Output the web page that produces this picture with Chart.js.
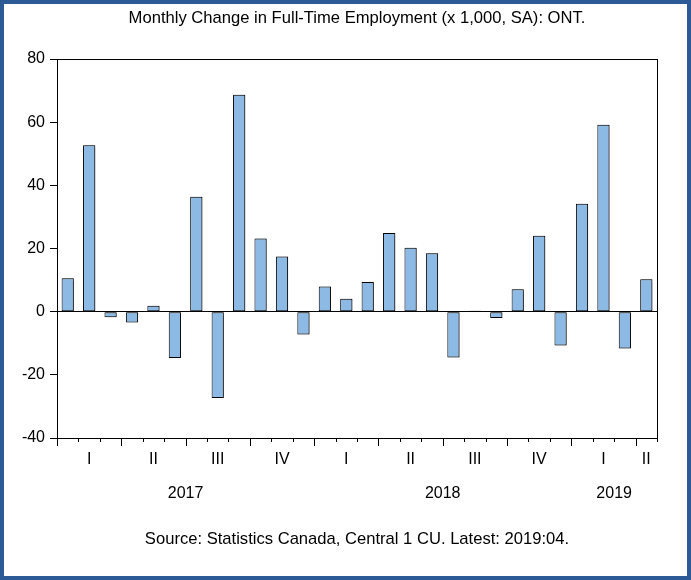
<!DOCTYPE html>
<html>
<head>
<meta charset="utf-8">
<script src="https://cdn.jsdelivr.net/npm/chart.js@4/dist/chart.umd.min.js"></script>
<style>
  html, body { margin: 0; padding: 0; background: #fff; }
  #wrap { width: 691px; height: 580px; }
</style>
</head>
<body>
<div id="wrap"><canvas id="chart" width="691" height="580"></canvas></div>
<script>
// data
const months = ['2017-01','2017-02','2017-03','2017-04','2017-05','2017-06','2017-07','2017-08','2017-09','2017-10','2017-11','2017-12',
                '2018-01','2018-02','2018-03','2018-04','2018-05','2018-06','2018-07','2018-08','2018-09','2018-10','2018-11','2018-12',
                '2019-01','2019-02','2019-03','2019-04'];
const change = [10.6, 52.7, -1.8, -3.4, 1.9, -14.7, 36.4, -27.3, 68.7, 23.2, 17.5, -7.2,
                8.0, 4.1, 9.4, 24.9, 20.2, 18.5, -14.5, 0.3, -2.0, 7.1, 24.0, -10.7,
                34.2, 59.2, -11.7, 10.3];
const quarterNames = ['I', 'II', 'III', 'IV'];
const yTicks = [-40, -20, 0, 20, 40, 60, 80];

const titleText = 'Monthly Change in Full-Time Employment (x 1,000, SA): ONT.';
const sourceText = 'Source: Statistics Canada, Central 1 CU. Latest: 2019:04.';
const FONT = '"Liberation Sans", Arial, sans-serif';

// frame, plot box, month ticks, quarter and year labels
const decor = {
  id: 'decor',
  beforeDraw(chart) {
    const c = chart.ctx;
    c.save();
    c.fillStyle = '#fff';
    c.fillRect(0, 0, chart.width, chart.height);
    c.strokeStyle = '#2c5a96';
    c.lineWidth = 4;
    c.strokeRect(2, 2, chart.width - 4, chart.height - 4);
    c.restore();
  },
  beforeDatasetsDraw(chart) {
    chart.ctx.save();
    chart.ctx.shadowColor = 'rgba(0,0,0,0.35)';
    chart.ctx.shadowOffsetX = 1.5;
    chart.ctx.shadowOffsetY = 0;
    chart.ctx.shadowBlur = 1;
  },
  afterDatasetsDraw(chart) {
    chart.ctx.restore();
  },
  afterDraw(chart) {
    const c = chart.ctx;
    const a = chart.chartArea;
    const xs = chart.scales.x;
    const n = months.length;
    const w = (xs.right - xs.left) / n;
    const mid = (a.left + a.right) / 2;
    c.save();
    c.strokeStyle = '#000';
    c.lineWidth = 1;
    c.strokeRect(Math.round(a.left) + 0.5, Math.round(a.top) + 0.5,
                 Math.round(a.right - a.left), Math.round(a.bottom - a.top));

    // month ticks, longer on quarter starts
    for (let i = 0; i <= n; i++) {
      const x = Math.round(xs.left + i * w) + 0.5;
      const len = (i % 3 === 0 && i < n) ? 8 : 4;
      c.beginPath();
      c.moveTo(x, a.bottom);
      c.lineTo(x, a.bottom + len);
      c.stroke();
    }

    c.fillStyle = '#000';
    c.textAlign = 'center';
    c.textBaseline = 'middle';
    c.font = '16px ' + FONT;

    // quarter labels, centered on the months present in each quarter
    const groups = {};
    const years = {};
    months.forEach((m, i) => {
      const yr = m.slice(0, 4);
      const q = Math.floor((parseInt(m.slice(5), 10) - 1) / 3);
      const key = yr + 'Q' + q;
      (groups[key] = groups[key] || { q: q, idx: [] }).idx.push(i);
      (years[yr] = years[yr] || []).push(i);
    });
    Object.values(groups).forEach(g => {
      const x = (xs.getPixelForValue(g.idx[0]) + xs.getPixelForValue(g.idx[g.idx.length - 1])) / 2;
      c.fillText(quarterNames[g.q], x, 460);
    });
    Object.keys(years).forEach(yr => {
      const idx = years[yr];
      const x = (xs.getPixelForValue(idx[0]) + xs.getPixelForValue(idx[idx.length - 1])) / 2;
      c.fillText(yr, x, 494);
    });

    c.font = '16.6px ' + FONT;
    c.fillText(titleText, mid, 18);
    c.fillText(sourceText, mid, 539);
    c.restore();
  }
};

new Chart(document.getElementById('chart'), {
  type: 'bar',
  data: {
    labels: months,
    datasets: [{
      data: change,
      backgroundColor: '#8cbae5',
      borderColor: '#000',
      borderWidth: 1,
      borderSkipped: false,
      categoryPercentage: 1,
      barPercentage: 0.57
    }]
  },
  options: {
    responsive: false,
    animation: false,
    devicePixelRatio: 1,
    layout: { padding: { left: 0, right: 34, top: 59, bottom: 142 } },
    plugins: { legend: { display: false }, tooltip: { enabled: false } },
    scales: {
      x: { display: false, offset: true },
      y: {
        min: -40,
        max: 80,
        afterFit(scale) { scale.width = 57; },
        afterBuildTicks(scale) { scale.ticks = yTicks.map(v => ({ value: v })); },
        border: { display: false },
        grid: {
          color: ctx => (ctx.tick && ctx.tick.value === 0) ? '#000' : 'rgba(0,0,0,0)',
          tickColor: '#000',
          tickLength: 7,
          lineWidth: 1
        },
        ticks: {
          color: '#000',
          padding: 5,
          font: { family: FONT, size: 16 }
        }
      }
    }
  },
  plugins: [decor]
});
</script>
</body>
</html>
